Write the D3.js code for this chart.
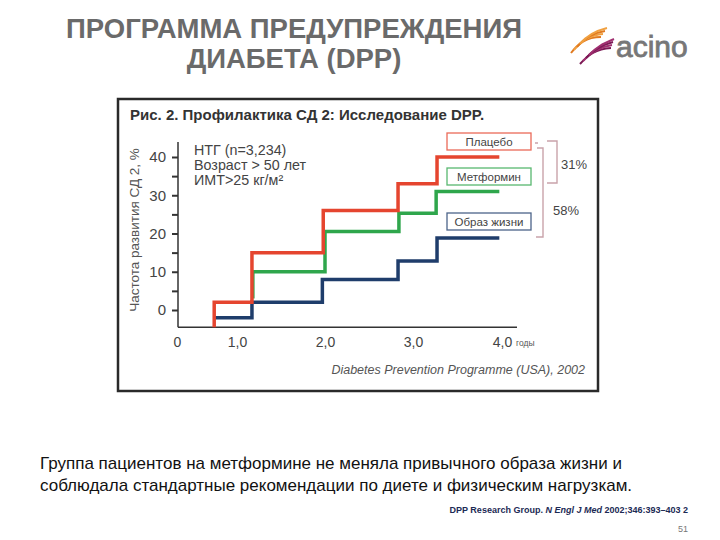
<!DOCTYPE html>
<html><head><meta charset="utf-8">
<script src="https://cdn.jsdelivr.net/npm/d3@7"></script>
<style>body{margin:0;background:#fff;}svg{display:block;font-family:"Liberation Sans",Arial,sans-serif;}</style>
</head><body>
<svg id="c" width="720" height="540"></svg>
<script>
// ---- data ----
const xTickValues = [0, 1, 2, 3, 4];
const xTickLabels = ["0", "1,0", "2,0", "3,0", "4,0"];
const yTickValues = [0, 5, 10, 15, 20, 25, 30, 35, 40];
const yTickLabels = ["0", "", "10", "", "20", "", "30", "", "40"];

const placeboYears  = [0.62, 0.62, 1.17, 1.98, 2.83, 3.27, 3.97];
const placeboValues = [-4.5, 2, 15, 26, 33, 40, 40];
const metforminYears  = [1.18, 1.18, 2.0, 2.84, 3.26, 3.97];
const metforminValues = [3, 10, 20.5, 25.3, 31, 31];
const lifestyleYears  = [0.63, 1.17, 1.97, 2.83, 3.27, 3.97];
const lifestyleValues = [-2, 2, 8, 12.8, 18.8, 18.8];

const seriesNames = ["Плацебо", "Метформин", "Образ жизни"];
const seriesColors = ["#e5452f", "#2fa64c", "#1f3d6b"];
const infoLines = ["НТГ (n=3,234)", "Возраст > 50 лет", "ИМТ>25 кг/м²"];
const reductions = ["31%", "58%"];

// ---- drawing ----
const svg = d3.select("#c");
const x = d3.scaleLinear().domain(xTickValues).range([177, 237, 325, 413, 502]);
const y = d3.scaleLinear().domain([0, 40]).range([310, 157]);

// page title
svg.append("text").attr("x", 294).attr("y", 38).attr("text-anchor", "middle")
  .attr("font-size", 27.5).attr("font-weight", "bold").attr("fill", "#6a6a6a")
  .text("ПРОГРАММА ПРЕДУПРЕЖДЕНИЯ");
svg.append("text").attr("x", 294).attr("y", 68).attr("text-anchor", "middle")
  .attr("font-size", 27.5).attr("font-weight", "bold").attr("fill", "#6a6a6a")
  .text("ДИАБЕТА (DPP)");

// logo
const logo = svg.append("g");
[0,1,2,3].forEach(i => {
  logo.append("path")
    .attr("d", `M${571+i*3},${53-i*3} C${578+i*3},${44-i*3} ${586+i*3},${37-i*2} ${601+i*2},${37-i*3}`)
    .attr("fill", "none").attr("stroke", i%2 ? "#f0a040" : "#e07a20").attr("stroke-width", 2);
  logo.append("path")
    .attr("d", `M${580+i*3},${64-i*3} C${588+i*3},${55-i*3} ${596+i*3},${49-i*2} ${611+i*1},${48-i*3}`)
    .attr("fill", "none").attr("stroke", i%2 ? "#a03070" : "#7a1a55").attr("stroke-width", 2);
});
logo.append("text").attr("x", 616).attr("y", 57).attr("font-size", 30)
  .attr("fill", "#777").attr("stroke", "#777").attr("stroke-width", 0.8).text("acino");

// chart frame
svg.append("rect").attr("x", 118).attr("y", 99).attr("width", 480).attr("height", 292)
  .attr("fill", "#fff").attr("stroke", "#2a2a2a").attr("stroke-width", 2.5);
svg.append("text").attr("x", 130).attr("y", 120).attr("font-size", 15).attr("font-weight", "bold")
  .attr("fill", "#333").text("Рис. 2. Профилактика СД 2: Исследование DPP.");

// axes
const axisColor = "#333";
svg.append("line").attr("x1", 178).attr("x2", 178).attr("y1", 142).attr("y2", y(-4.5))
  .attr("stroke", axisColor).attr("stroke-width", 1.5);
svg.append("line").attr("x1", 178).attr("x2", 517).attr("y1", y(-4.5)).attr("y2", y(-4.5))
  .attr("stroke", axisColor).attr("stroke-width", 1.5);

const yAxis = svg.append("g").attr("transform", "translate(178,0)")
  .call(d3.axisLeft(y).tickValues(yTickValues).tickSize(6).tickPadding(6)
    .tickFormat((d, i) => yTickLabels[i]));
yAxis.select(".domain").remove();
yAxis.selectAll("line").attr("stroke", axisColor).attr("stroke-width", 2);
yAxis.selectAll("text").attr("font-size", 15).attr("fill", "#444")
  .attr("font-family", "Liberation Sans, Arial, sans-serif");

const xAxis = svg.append("g").attr("transform", `translate(0,${y(-4.5)})`)
  .call(d3.axisBottom(x).tickValues(xTickValues).tickSize(0).tickPadding(10)
    .tickFormat((d, i) => xTickLabels[i]));
xAxis.select(".domain").remove();
xAxis.selectAll("text").attr("font-size", 14).attr("fill", "#444")
  .attr("font-family", "Liberation Sans, Arial, sans-serif");
svg.append("text").attr("x", 516).attr("y", 346).attr("font-size", 8.5).attr("fill", "#555").text("годы");

// y label
svg.append("text").attr("transform", "translate(139,230) rotate(-90)").attr("text-anchor", "middle")
  .attr("font-size", 13.5).attr("fill", "#555").text("Частота развития СД 2, %");

// info lines
infoLines.forEach((t, i) => {
  svg.append("text").attr("x", 194).attr("y", 155 + i * 15).attr("font-size", 14.3)
    .attr("fill", "#444").text(t);
});

// step lines
const line = d3.line().x(d => x(d[0])).y(d => y(d[1])).curve(d3.curveStepAfter);
const series = [
  d3.zip(placeboYears, placeboValues),
  d3.zip(metforminYears, metforminValues),
  d3.zip(lifestyleYears, lifestyleValues)
];
[2, 1, 0].forEach(i => {
  svg.append("path").attr("d", line(series[i])).attr("fill", "none")
    .attr("stroke", seriesColors[i]).attr("stroke-width", 3.5);
});

// legend boxes
const boxY = [133, 168, 213];
seriesNames.forEach((n, i) => {
  svg.append("rect").attr("x", 447).attr("y", boxY[i]).attr("width", 84).attr("height", 17)
    .attr("fill", "#fff").attr("stroke", seriesColors[i]).attr("stroke-width", 1.3)
    .attr("stroke-opacity", 0.8);
  svg.append("text").attr("x", 489).attr("y", boxY[i] + 13).attr("text-anchor", "middle")
    .attr("font-size", 11.5).attr("fill", "#444").text(n);
});

// brackets
const bc = "#c9a3aa";
svg.append("path").attr("d", "M535,143 H538 M547,141 H557 V183 H547").attr("fill", "none")
  .attr("stroke", bc).attr("stroke-width", 1.4);
svg.append("path").attr("d", "M537,148 H543 V237 H536").attr("fill", "none")
  .attr("stroke", bc).attr("stroke-width", 1.4);
svg.append("text").attr("x", 574).attr("y", 169).attr("text-anchor", "middle").attr("font-size", 13)
  .attr("fill", "#444").text(reductions[0]);
svg.append("text").attr("x", 566).attr("y", 215).attr("text-anchor", "middle").attr("font-size", 13)
  .attr("fill", "#444").text(reductions[1]);

// source
svg.append("text").attr("x", 585).attr("y", 374).attr("text-anchor", "end").attr("font-size", 12.5)
  .attr("font-style", "italic").attr("fill", "#555").text("Diabetes Prevention Programme (USA), 2002");

// bottom text
svg.append("text").attr("x", 40).attr("y", 469).attr("font-size", 17).attr("fill", "#111")
  .text("Группа пациентов на метформине не меняла привычного образа жизни и");
svg.append("text").attr("x", 40).attr("y", 491).attr("font-size", 17).attr("fill", "#111")
  .text("соблюдала стандартные рекомендации по диете и физическим нагрузкам.");

const cite = svg.append("text").attr("x", 688).attr("y", 513).attr("text-anchor", "end")
  .attr("font-size", 9).attr("font-weight", "bold").attr("fill", "#1c2a55");
cite.append("tspan").text("DPP Research Group. ");
cite.append("tspan").attr("font-style", "italic").text("N Engl J Med");
cite.append("tspan").text(" 2002;346:393–403 2");
svg.append("text").attr("x", 688).attr("y", 532).attr("text-anchor", "end").attr("font-size", 9)
  .attr("fill", "#777").text("51");
</script>
</body></html>
